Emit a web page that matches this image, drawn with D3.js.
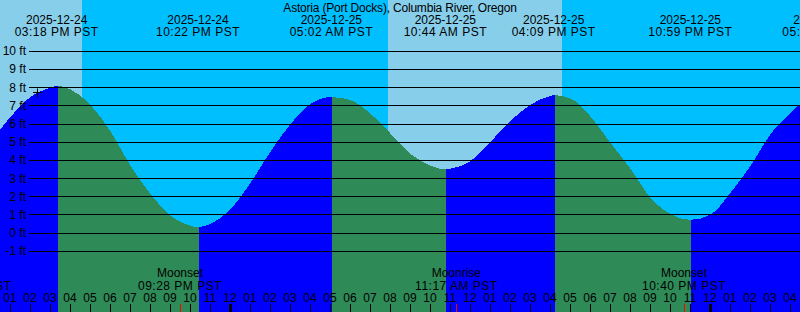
<!DOCTYPE html>
<html>
<head>
<meta charset="utf-8">
<script src="https://cdn.jsdelivr.net/npm/d3@7"></script>
<style>
  body { margin: 0; background: #fff; }
  svg { display: block; font-family: "Liberation Sans", Arial, sans-serif; font-size: 12px; }
  .clock { letter-spacing: 0.5px; }
</style>
</head>
<body>
<div id="chart"></div>
<script>
// chart title
var title = "Astoria (Port Docks), Columbia River, Oregon";

// high / low tides (local time, PST) and heights in ft
var tideTimes = ["2025-12-24 15:18", "2025-12-24 22:22", "2025-12-25 05:02", "2025-12-25 10:44",
                 "2025-12-25 16:09", "2025-12-25 22:59", "2025-12-26 05:40"];
var tideHeights = [8.1, 0.33, 7.48, 3.5, 7.59, 0.73, 7.75];

// heights every hour, starting at hourlyStart
var hourlyStart = "2025-12-24 12:00";
var hourlyHeights = [5.0, 6.4, 7.5, 8.0, 7.9, 7.04, 5.58, 3.69, 2.14, 0.95, 0.4, 0.51,
                     1.33, 2.78, 4.5, 6.01, 7.11, 7.48, 7.31, 6.56, 5.47, 4.35, 3.71, 3.55,
                     3.97, 5.03, 6.18, 7.07, 7.55, 7.4, 6.4, 4.95, 3.53, 1.94, 1.04, 0.73,
                     1.02, 2.23, 3.71, 5.45, 6.62, 7.5];

// daylight (sunrise -> sunset)
var dayStarts = ["2025-12-24 07:51", "2025-12-25 07:52"];
var dayEnds = ["2025-12-24 16:34", "2025-12-25 16:34"];

// moon events
var moonTimes = ["2025-12-24 10:58", "2025-12-24 21:28", "2025-12-25 11:17", "2025-12-25 22:40"];
var moonNames = ["Moonrise", "Moonset", "Moonrise", "Moonset"];

// current time mark
var nowTime = "2025-12-24 14:19";
var nowHeight = 7.75;

// height axis ticks (ft)
var heightTicks = [-1, 0, 1, 2, 3, 4, 5, 6, 7, 8, 9, 10];

var width = 800, height = 312;
var parse = d3.timeParse("%Y-%m-%d %H:%M");
var fmtDate = d3.timeFormat("%Y-%m-%d"),
    fmtTime = d3.timeFormat("%I:%M %p"),
    fmtHour = d3.timeFormat("%I");

var start = parse("2025-12-24 12:28"),
    end = parse("2025-12-26 04:28");

// scales
var x = d3.scaleTime().domain([start, end]).range([0, width]);
var y = d3.scaleLinear().domain([-1, 10]).range([251.3, 51.3]);

var svg = d3.select("#chart").append("svg")
    .attr("width", width)
    .attr("height", height);

// night background, then daylight bands
svg.append("rect")
    .attr("width", width).attr("height", height)
    .attr("fill", "#00bfff");

svg.selectAll(".day")
    .data(dayStarts)
  .enter().append("rect")
    .attr("class", "day")
    .attr("shape-rendering", "crispEdges")
    .attr("x", function(d) { return Math.max(0, x(parse(d))); })
    .attr("width", function(d, i) { return x(parse(dayEnds[i])) - Math.max(0, x(parse(d))); })
    .attr("y", 0)
    .attr("height", height)
    .attr("fill", "#87ceeb");

// tide series: hourly readings plus the extremes
var tide = hourlyHeights.map(function(h, i) {
      return { t: d3.timeHour.offset(parse(hourlyStart), i), h: h };
    })
    .concat(tideTimes.map(function(t, i) { return { t: parse(t), h: tideHeights[i] }; }))
    .sort(function(a, b) { return a.t - b.t; });

var area = d3.area()
    .x(function(d) { return x(d.t); })
    .y0(height)
    .y1(function(d) { return y(d.h); })
    .curve(d3.curveMonotoneX);

// segments between extremes: rising (flood) blue, falling (ebb) green
var bounds = [d3.timeHour.offset(start, -2)]
    .concat(tideTimes.map(parse))
    .concat([d3.timeHour.offset(end, 2)]);

var segments = d3.range(bounds.length - 1).map(function(i) {
  var rising;
  if (i < tideHeights.length) {
    rising = i > 0 ? tideHeights[i] > tideHeights[i - 1] : tideHeights[0] > tideHeights[1];
  } else {
    rising = tideHeights[i - 1] < tideHeights[i - 2];
  }
  return { from: bounds[i], to: bounds[i + 1], rising: rising };
});

var defs = svg.append("defs");
segments.forEach(function(s, i) {
  defs.append("clipPath")
      .attr("id", "seg" + i)
    .append("rect")
      .attr("x", Math.round(x(s.from)) + 1)
      .attr("width", Math.round(x(s.to)) - Math.round(x(s.from)))
      .attr("y", 0)
      .attr("height", height);
});

svg.selectAll(".tide")
    .data(segments)
  .enter().append("path")
    .attr("class", "tide")
    .attr("clip-path", function(d, i) { return "url(#seg" + i + ")"; })
    .attr("shape-rendering", "crispEdges")
    .attr("d", area(tide))
    .attr("fill", function(d) { return d.rising ? "#0000ff" : "#2e8b57"; });

// height grid lines and labels
svg.selectAll(".grid")
    .data(heightTicks)
  .enter().append("line")
    .attr("class", "grid")
    .attr("x1", 29).attr("x2", width)
    .attr("y1", function(d) { return Math.floor(y(d)) + 0.5; })
    .attr("y2", function(d) { return Math.floor(y(d)) + 0.5; })
    .attr("stroke", "#000");

svg.selectAll(".ftlabel")
    .data(heightTicks)
  .enter().append("text")
    .attr("class", "ftlabel")
    .attr("x", 26)
    .attr("y", function(d) { return y(d) + 4; })
    .attr("text-anchor", "end")
    .text(function(d) { return d + " ft"; });

// title
svg.append("text")
    .attr("x", width / 2).attr("y", 12)
    .attr("text-anchor", "middle")
    .style("letter-spacing", "-0.2px")
    .text(title);

// tide event labels along the top
var tops = svg.selectAll(".tidelabel")
    .data(tideTimes.map(parse))
  .enter().append("g")
    .attr("class", "tidelabel")
    .attr("transform", function(d) { return "translate(" + x(d) + ",0)"; });
tops.append("text").attr("y", 24).attr("text-anchor", "middle")
    .text(function(d) { return fmtDate(d); });
tops.append("text").attr("class", "clock").attr("y", 36).attr("text-anchor", "middle")
    .text(function(d) { return fmtTime(d) + " PST"; });

// moon labels along the bottom
var moons = svg.selectAll(".moon")
    .data(moonTimes.map(parse))
  .enter().append("g")
    .attr("class", "moon")
    .attr("transform", function(d) { return "translate(" + x(d) + ",0)"; });
moons.append("text").attr("y", 277).attr("text-anchor", "middle")
    .text(function(d, i) { return moonNames[i]; });
moons.append("text").attr("class", "clock").attr("y", 290).attr("text-anchor", "middle")
    .text(function(d) { return fmtTime(d) + " PST"; });

// hour ticks and labels
var hours = d3.timeHour.range(start, end);

svg.selectAll(".hourlabel")
    .data(hours)
  .enter().append("text")
    .attr("class", "hourlabel")
    .attr("x", function(d) { return Math.floor(x(d)); })
    .attr("y", 302)
    .attr("text-anchor", "middle")
    .text(function(d) { return fmtHour(d); });

svg.selectAll(".hourtick")
    .data(hours)
  .enter().append("rect")
    .attr("class", "hourtick")
    .attr("shape-rendering", "crispEdges")
    .attr("x", function(d) { return Math.floor(x(d)) - (d.getHours() === 0 ? 1 : 0); })
    .attr("width", function(d) { return d.getHours() === 0 ? 3 : 1; })
    .attr("y", 304)
    .attr("height", 8)
    .attr("fill", "#000");

svg.selectAll(".moontick")
    .data(moonTimes.map(parse))
  .enter().append("rect")
    .attr("class", "moontick")
    .attr("shape-rendering", "crispEdges")
    .attr("x", function(d) { return Math.floor(x(d)); })
    .attr("width", 1)
    .attr("y", 304)
    .attr("height", 8)
    .attr("fill", "#ff0000");

// current time mark
var nx = Math.floor(x(parse(nowTime))) + 0.5,
    ny = Math.floor(y(nowHeight)) + 0.5;
svg.append("path")
    .attr("d", "M" + (nx - 4.5) + "," + ny + "H" + (nx + 5) + "M" + nx + "," + (ny - 4) + "V" + (ny + 5))
    .attr("stroke", "#000")
    .attr("fill", "none");
</script>
</body>
</html>
